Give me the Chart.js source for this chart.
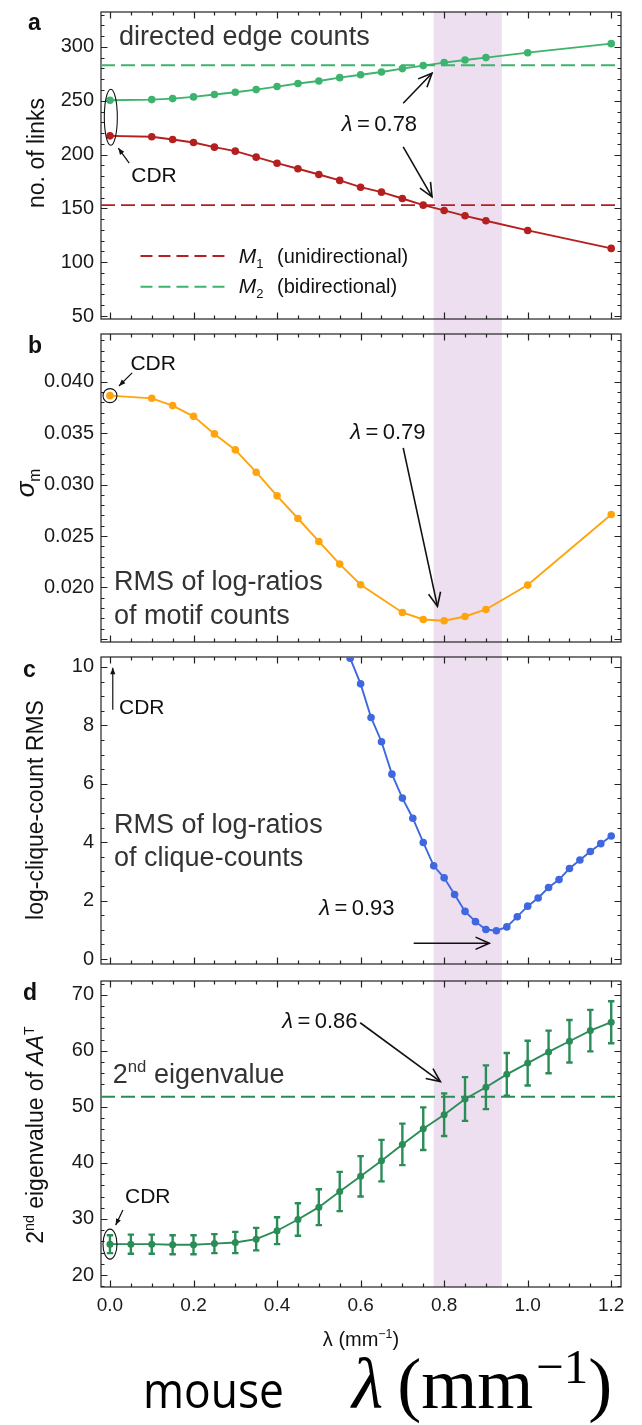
<!DOCTYPE html>
<html>
<head>
<meta charset="utf-8">
<title>Edge, motif, clique and eigenvalue statistics vs. λ</title>
<script src="https://cdn.jsdelivr.net/npm/chart.js@4.4.1/dist/chart.umd.min.js"></script>
<style>
  html, body { margin: 0; padding: 0; background: #fff; }
  #wrap { position: relative; width: 642px; height: 1425px; overflow: hidden; }
  #wrap canvas { position: absolute; left: 0; }
</style>
</head>
<body>
<div id="wrap">
  <canvas id="panelA" width="642" height="326" style="top:0px"></canvas>
  <canvas id="panelB" width="642" height="324" style="top:326px"></canvas>
  <canvas id="panelC" width="642" height="322" style="top:650px"></canvas>
  <canvas id="panelD" width="642" height="453" style="top:972px"></canvas>
</div>
<script>
// ---------- data ----------
// (a) directed edge counts
const lambdaEdges = [0, 0.1, 0.15, 0.2, 0.25, 0.3, 0.35, 0.4, 0.45, 0.5, 0.55, 0.6, 0.65, 0.7, 0.75, 0.8, 0.85, 0.9, 1.0, 1.2];
const unidirectional = [217.4, 216.5, 214.0, 211.2, 206.9, 203.2, 197.6, 192.0, 186.8, 181.5, 176.0, 169.7, 165.1, 159.2, 153.0, 148.1, 143.1, 138.5, 129.5, 112.8];
const bidirectional = [250.5, 251.1, 252.0, 253.6, 255.8, 257.9, 260.4, 263.2, 266.0, 268.4, 271.5, 274.2, 276.8, 279.9, 282.7, 285.5, 287.9, 290.1, 294.7, 303.1];
const m1Level = 153;
const m2Level = 283;

// (b) RMS of log-ratios of motif counts
const lambdaMotifs = [0, 0.1, 0.15, 0.2, 0.25, 0.3, 0.35, 0.4, 0.45, 0.5, 0.55, 0.6, 0.7, 0.75, 0.8, 0.85, 0.9, 1.0, 1.2];
const sigmaM = [0.03864, 0.03838, 0.03767, 0.03663, 0.03492, 0.03337, 0.03120, 0.02890, 0.02670, 0.02447, 0.02227, 0.02026, 0.01757, 0.01689, 0.01676, 0.01718, 0.01786, 0.02023, 0.02709];

// (c) RMS of log-ratios of clique counts
const lambdaCliques = [0.575, 0.6, 0.625, 0.65, 0.675, 0.7, 0.725, 0.75, 0.775, 0.8, 0.825, 0.85, 0.875, 0.9, 0.925, 0.95, 0.975, 1.0, 1.025, 1.05, 1.075, 1.1, 1.125, 1.15, 1.175, 1.2];
const cliqueRms = [10.3, 9.42, 8.27, 7.44, 6.33, 5.51, 4.82, 3.99, 3.19, 2.78, 2.21, 1.63, 1.28, 1.01, 0.97, 1.10, 1.45, 1.81, 2.09, 2.45, 2.72, 3.10, 3.39, 3.68, 3.95, 4.21];

// (d) 2nd eigenvalue of A·A^T with error bars
const lambdaEigen = [0, 0.05, 0.1, 0.15, 0.2, 0.25, 0.3, 0.35, 0.4, 0.45, 0.5, 0.55, 0.6, 0.65, 0.7, 0.75, 0.8, 0.85, 0.9, 0.95, 1.0, 1.05, 1.1, 1.15, 1.2];
const eigen2 = [25.5, 25.5, 25.5, 25.4, 25.4, 25.6, 25.8, 26.4, 27.9, 29.9, 32.1, 34.9, 37.6, 40.4, 43.3, 46.1, 48.6, 51.4, 53.5, 55.8, 57.8, 59.8, 61.7, 63.6, 65.1];
const eigen2Err = [1.6, 1.7, 1.7, 1.7, 1.7, 1.7, 1.9, 2.0, 2.4, 2.9, 3.2, 3.5, 3.6, 3.7, 3.7, 3.8, 3.8, 3.9, 3.9, 3.8, 4.0, 3.8, 3.8, 3.7, 3.75];
const eigenRef = 51.8;

// optimal λ range (shaded) and the individual optima
const optimalBand = [0.775, 0.938];
const optimaLabels = ['0.78', '0.79', '0.93', '0.86'];

// x ticks
const xTickStep = 0.2;
const xMinorStep = 0.05;

// ---------- style ----------
const SANS = '"Liberation Sans", Arial, Helvetica, sans-serif';
const SERIF = '"Liberation Serif", "Times New Roman", serif';
const WORDS = '"Open Sans", "Noto Sans", sans-serif';
const X_MIN = -0.0215, X_MAX = 1.2234;
const C_GREEN = '#3cb46d', C_RED = '#b3201f', C_ORANGE = '#ffa40c', C_BLUE = '#3f68e0', C_DGREEN = '#2a8c57';
const C_BAND = '#eedff0', C_TEXT = '#333333', C_TICKS = '#1a1a1a', C_FRAME = '#222222';

function fontOf(p, size, family) {
  const s = (p.sub || p.sup) ? size * (p.scale || 0.62) : size;
  return `${p.i ? 'italic ' : ''}${p.b ? 'bold ' : ''}${s}px ${p.f || family || SANS}`;
}
function drawRich(ctx, parts, x, y, size, color, align, family) {
  ctx.save();
  ctx.fillStyle = color || C_TEXT;
  ctx.textAlign = 'left';
  ctx.textBaseline = 'alphabetic';
  let total = 0;
  const widths = parts.map(p => {
    ctx.font = fontOf(p, size, family);
    const w = ctx.measureText(p.t).width + (p.gap || 0);
    total += w;
    return w;
  });
  let cx = align === 'center' ? x - total / 2 : x;
  parts.forEach((p, i) => {
    ctx.font = fontOf(p, size, family);
    const dy = p.dy !== undefined ? p.dy : (p.sub ? size * 0.22 : p.sup ? -size * 0.4 : 0);
    ctx.fillText(p.t, cx, y + dy);
    cx += widths[i];
  });
  ctx.restore();
  return total;
}
function drawArrow(ctx, x1, y1, x2, y2, small) {
  ctx.save();
  ctx.strokeStyle = '#111';
  ctx.fillStyle = '#111';
  ctx.lineWidth = small ? 1.2 : 1.6;
  ctx.beginPath(); ctx.moveTo(x1, y1); ctx.lineTo(x2, y2); ctx.stroke();
  const a = Math.atan2(y2 - y1, x2 - x1);
  const L = small ? 7 : 15, w = small ? 0.38 : 0.42;
  const hx1 = x2 - L * Math.cos(a - w), hy1 = y2 - L * Math.sin(a - w);
  const hx2 = x2 - L * Math.cos(a + w), hy2 = y2 - L * Math.sin(a + w);
  ctx.beginPath();
  if (small) {
    ctx.moveTo(x2, y2); ctx.lineTo(hx1, hy1); ctx.lineTo(hx2, hy2); ctx.closePath(); ctx.fill();
  } else {
    ctx.moveTo(hx1, hy1); ctx.lineTo(x2, y2); ctx.lineTo(hx2, hy2); ctx.stroke();
  }
  ctx.restore();
}
function stepsIn(min, max, step) {
  const out = [];
  for (let k = Math.ceil(min / step - 1e-9); k <= Math.floor(max / step + 1e-9); k++) out.push(k * step);
  return out;
}
const isMultiple = (v, step) => Math.abs(v / step - Math.round(v / step)) < 1e-6;
const lambdaText = v => [{ t: 'λ', i: 1 }, { t: '\u2009=\u2009' + v }];

// ---------- per-panel decoration ----------
const decor = {};

const decorPlugin = {
  id: 'panelDecor',
  beforeDraw(chart) {
    const d = decor[chart.canvas.id];
    const { ctx, chartArea: ca, scales: { x } } = chart;
    const x0 = x.getPixelForValue(optimalBand[0]);
    const x1 = x.getPixelForValue(optimalBand[1]);
    const top = d.first ? ca.top : 0;
    const bottom = d.last ? ca.bottom : chart.height;
    ctx.save();
    ctx.fillStyle = C_BAND;
    ctx.fillRect(x0, top, x1 - x0, bottom - top);
    ctx.restore();
  },
  beforeDatasetsDraw(chart) {
    const d = decor[chart.canvas.id];
    const { ctx, chartArea: ca, scales: { x, y } } = chart;
    ctx.save();
    ctx.strokeStyle = C_FRAME;
    ctx.lineWidth = 1.2;
    ctx.strokeRect(ca.left, ca.top, ca.right - ca.left, ca.bottom - ca.top);
    ctx.beginPath();
    for (const v of stepsIn(x.min, x.max, xMinorStep)) {
      const px = Math.round(x.getPixelForValue(v)) + 0.5;
      const L = isMultiple(v, xTickStep) ? 6.5 : 3.5;
      ctx.moveTo(px, ca.bottom); ctx.lineTo(px, ca.bottom - L);
      ctx.moveTo(px, ca.top); ctx.lineTo(px, ca.top + L);
    }
    for (const v of stepsIn(y.min, y.max, d.yMinor)) {
      const py = Math.round(y.getPixelForValue(v)) + 0.5;
      const L = isMultiple(v, d.yMajor) ? 6.5 : 3.5;
      ctx.moveTo(ca.left, py); ctx.lineTo(ca.left + L, py);
      ctx.moveTo(ca.right, py); ctx.lineTo(ca.right - L, py);
    }
    ctx.stroke();
    if (d.errors) {
      const e = d.errors;
      ctx.strokeStyle = e.color;
      ctx.lineWidth = 2.4;
      ctx.beginPath();
      e.x.forEach((lx, i) => {
        const px = x.getPixelForValue(lx);
        const lo = y.getPixelForValue(e.y[i] - e.err[i]);
        const hi = y.getPixelForValue(e.y[i] + e.err[i]);
        ctx.moveTo(px, lo); ctx.lineTo(px, hi);
        ctx.moveTo(px - 3.2, lo); ctx.lineTo(px + 3.2, lo);
        ctx.moveTo(px - 3.2, hi); ctx.lineTo(px + 3.2, hi);
      });
      ctx.stroke();
    }
    ctx.restore();
  },
  afterDraw(chart) {
    const d = decor[chart.canvas.id];
    const { ctx, scales: { x, y } } = chart;
    const P = at => [x.getPixelForValue(at[0]), y.getPixelForValue(at[1])];
    // panel letter
    drawRich(ctx, [{ t: d.label.t, b: 1 }], d.label.x, d.label.y, 23, '#111');
    // rotated axis title
    ctx.save();
    ctx.translate(d.yTitle.x, d.yTitle.y);
    ctx.rotate(-Math.PI / 2);
    drawRich(ctx, d.yTitle.parts, 0, d.yTitle.size * 0.36, d.yTitle.size, '#111', 'center');
    ctx.restore();
    for (const it of d.items) {
      if (it.type === 'text') {
        const [px, py] = P(it.at);
        drawRich(ctx, it.parts, px, py, it.size, it.color || C_TEXT, 'left');
      } else if (it.type === 'arrow') {
        const [a, b] = P(it.from), [c, e] = P(it.to);
        drawArrow(ctx, a, b, c, e, it.small);
      } else if (it.type === 'ellipse') {
        const [px, py] = P(it.at);
        ctx.save();
        ctx.strokeStyle = '#111'; ctx.lineWidth = 1.1;
        ctx.beginPath(); ctx.ellipse(px, py, it.rx, it.ry, 0, 0, Math.PI * 2); ctx.stroke();
        ctx.restore();
      } else if (it.type === 'dash') {
        const [a, b] = P(it.from), [c, e] = P(it.to);
        ctx.save();
        ctx.strokeStyle = it.color; ctx.lineWidth = 2; ctx.setLineDash([12, 6]);
        ctx.beginPath(); ctx.moveTo(a, b); ctx.lineTo(c, e); ctx.stroke();
        ctx.restore();
      }
    }
    if (d.extra) d.extra(chart);
  }
};

// ---------- chart factory ----------
const series = (xs, ys, color, r) => ({
  data: xs.map((v, i) => ({ x: v, y: ys[i] })),
  borderColor: color, backgroundColor: color, pointBackgroundColor: color,
  pointBorderWidth: 0, pointRadius: r || 3.8, borderWidth: 1.9, tension: 0
});
const level = (v, color) => ({
  data: [{ x: X_MIN, y: v }, { x: X_MAX, y: v }],
  borderColor: color, borderWidth: 1.9, borderDash: [14, 6], pointRadius: 0, tension: 0
});

function makePanel(id, datasets, cfg) {
  const showX = !!cfg.showX;
  const xScale = {
    type: 'linear', min: X_MIN, max: X_MAX, display: showX,
    grid: { display: false, drawTicks: false }, border: { display: false },
    ticks: {
      stepSize: xTickStep, includeBounds: false, autoSkip: false, maxRotation: 0,
      padding: 7, color: C_TICKS, font: { family: SANS, size: 19 },
      callback: v => Number(v).toFixed(1)
    }
  };
  if (showX) xScale.afterFit = s => { s.height = 40; s.paddingLeft = 0; s.paddingRight = 0; };
  return new Chart(document.getElementById(id), {
    type: 'line',
    data: { datasets },
    options: {
      responsive: false, animation: false, devicePixelRatio: 1, events: [],
      layout: { padding: { left: 0, right: 21, top: cfg.padTop, bottom: cfg.padBottom } },
      plugins: { legend: { display: false }, tooltip: { enabled: false } },
      scales: {
        x: xScale,
        y: {
          type: 'linear', min: cfg.yMin, max: cfg.yMax,
          grid: { display: false, drawTicks: false }, border: { display: false },
          ticks: {
            stepSize: cfg.yStep, includeBounds: false, padding: 7,
            color: C_TICKS, font: { family: SANS, size: 20 },
            callback: cfg.fmt
          },
          afterFit: s => { s.width = 101; s.paddingTop = 0; s.paddingBottom = 0; }
        }
      }
    },
    plugins: [decorPlugin]
  });
}

// ---------- panel a ----------
decor.panelA = {
  first: true, last: false, yMajor: 50, yMinor: 10,
  label: { t: 'a', x: 28, y: 30 },
  yTitle: { parts: [{ t: 'no. of links' }], x: 36, y: 153, size: 23 },
  items: [
    { type: 'text', at: [0.0215, 301.6], parts: [{ t: 'directed edge counts' }], size: 27 },
    { type: 'ellipse', at: [0.002, 234.7], rx: 6.5, ry: 28 },
    { type: 'text', at: [0.051, 174.4], parts: [{ t: 'CDR' }], size: 21, color: '#111' },
    { type: 'arrow', from: [0.046, 192], to: [0.0199, 206], small: true },
    { type: 'text', at: [0.555, 221.7], parts: lambdaText(optimaLabels[0]), size: 22, color: '#111' },
    { type: 'arrow', from: [0.702, 247.7], to: [0.771, 275.6] },
    { type: 'arrow', from: [0.702, 207.2], to: [0.771, 160.7] },
    { type: 'dash', from: [0.073, 105.7], to: [0.288, 105.7], color: C_RED },
    { type: 'text', at: [0.308, 99.2], parts: [{ t: 'M', i: 1 }, { t: '1', sub: 1 }], size: 21, color: '#111' },
    { type: 'text', at: [0.40, 99.2], parts: [{ t: '(unidirectional)' }], size: 20, color: '#111' },
    { type: 'dash', from: [0.073, 77.2], to: [0.288, 77.2], color: C_GREEN },
    { type: 'text', at: [0.308, 71.3], parts: [{ t: 'M', i: 1 }, { t: '2', sub: 1 }], size: 21, color: '#111' },
    { type: 'text', at: [0.40, 71.3], parts: [{ t: '(bidirectional)' }], size: 20, color: '#111' }
  ]
};
makePanel('panelA', [
  series(lambdaEdges, bidirectional, C_GREEN),
  series(lambdaEdges, unidirectional, C_RED),
  level(m2Level, C_GREEN),
  level(m1Level, C_RED)
], { padTop: 12, padBottom: 7, yMin: 47.2, yMax: 332.5, yStep: 50, fmt: v => String(v) });

// ---------- panel b ----------
decor.panelB = {
  first: false, last: false, yMajor: 0.005, yMinor: 0.001,
  label: { t: 'b', x: 28, y: 27 },
  yTitle: { parts: [{ t: 'σ', i: 1 }, { t: 'm', sub: 1, scale: 0.6 }], x: 24.5, y: 157, size: 26 },
  items: [
    { type: 'text', at: [0.049, 0.04114], parts: [{ t: 'CDR' }], size: 21, color: '#111' },
    { type: 'arrow', from: [0.053, 0.04085], to: [0.0215, 0.03958], small: true },
    { type: 'ellipse', at: [lambdaMotifs[0], sigmaM[0]], rx: 7, ry: 7 },
    { type: 'text', at: [0.575, 0.03444], parts: lambdaText(optimaLabels[1]), size: 22, color: '#111' },
    { type: 'arrow', from: [0.702, 0.03356], to: [0.784, 0.01816] },
    { type: 'text', at: [0.0098, 0.01971], parts: [{ t: 'RMS of log-ratios' }], size: 27 },
    { type: 'text', at: [0.0098, 0.01647], parts: [{ t: 'of motif counts' }], size: 27 }
  ]
};
makePanel('panelB', [
  series(lambdaMotifs, sigmaM, C_ORANGE)
], { padTop: 8, padBottom: 8, yMin: 0.0147, yMax: 0.04463, yStep: 0.005,
     fmt: v => (v < 0.0175 ? null : Number(v).toFixed(3)) });

// ---------- panel c ----------
decor.panelC = {
  first: false, last: false, yMajor: 2, yMinor: 0.5,
  label: { t: 'c', x: 23, y: 27 },
  yTitle: { parts: [{ t: 'log-clique-count RMS' }], x: 34.8, y: 160, size: 23 },
  items: [
    { type: 'arrow', from: [0.0067, 8.53], to: [0.0067, 9.97], small: true },
    { type: 'text', at: [0.0215, 8.39], parts: [{ t: 'CDR' }], size: 21, color: '#111' },
    { type: 'text', at: [0.0098, 4.31], parts: [{ t: 'RMS of log-ratios' }], size: 27 },
    { type: 'text', at: [0.0098, 3.2], parts: [{ t: 'of clique-counts' }], size: 27 },
    { type: 'text', at: [0.501, 1.51], parts: lambdaText(optimaLabels[2]), size: 22, color: '#111' },
    { type: 'arrow', from: [0.727, 0.54], to: [0.908, 0.54] }
  ]
};
makePanel('panelC', [
  series(lambdaCliques, cliqueRms, C_BLUE)
], { padTop: 7, padBottom: 8, yMin: -0.17, yMax: 10.34, yStep: 2, fmt: v => String(v) });

// ---------- panel d ----------
decor.panelD = {
  first: false, last: true, yMajor: 10, yMinor: 2,
  label: { t: 'd', x: 23, y: 28 },
  yTitle: {
    parts: [{ t: '2' }, { t: 'nd', sup: 1 }, { t: ' eigenvalue of ' }, { t: 'AA', i: 1 }, { t: 'T', sup: 1 }],
    x: 34.8, y: 163, size: 23
  },
  errors: { x: lambdaEigen, y: eigen2, err: eigen2Err, color: C_DGREEN },
  items: [
    { type: 'text', at: [0.4125, 64.1], parts: lambdaText(optimaLabels[3]), size: 22, color: '#111' },
    { type: 'arrow', from: [0.599, 65], to: [0.791, 54.5] },
    { type: 'text', at: [0.0067, 54.3], parts: [{ t: '2' }, { t: 'nd', sup: 1 }, { t: ' eigenvalue' }], size: 27 },
    { type: 'text', at: [0.036, 32.9], parts: [{ t: 'CDR' }], size: 21, color: '#111' },
    { type: 'arrow', from: [0.031, 31.6], to: [0.0136, 28.9], small: true },
    { type: 'ellipse', at: [lambdaEigen[0], eigen2[0]], rx: 7, ry: 15 }
  ],
  extra(chart) {
    const { ctx, chartArea: ca } = chart;
    const cx = (ca.left + ca.right) / 2;
    // x-axis title
    drawRich(ctx, [{ t: 'λ' }, { t: ' (mm' }, { t: '−1', sup: 1 }, { t: ')' }], cx, ca.bottom + 59, 20, '#111', 'center');
    // large caption line
    ctx.save();
    ctx.font = `50px ${WORDS}`;
    ctx.fillStyle = '#000';
    const w = ctx.measureText('mouse').width;
    ctx.translate(143, ca.bottom + 121);
    ctx.scale(141 / w, 1);
    ctx.fillText('mouse', 0, 0);
    ctx.restore();
    drawRich(ctx, [
      { t: 'λ', i: 1, gap: 14 },
      { t: '(' },
      { t: 'mm', gap: 3 },
      { t: '−1', sup: 1, scale: 0.68, dy: -25 },
      { t: ')' }
    ], 352, ca.bottom + 121, 72, '#000', 'left', SERIF);
  }
};
makePanel('panelD', [
  series(lambdaEigen, eigen2, C_DGREEN, 3.5),
  level(eigenRef, C_DGREEN)
], { showX: true, padTop: 9, padBottom: 98, yMin: 17.86, yMax: 72.45, yStep: 10, fmt: v => String(v) });
</script>
</body>
</html>
